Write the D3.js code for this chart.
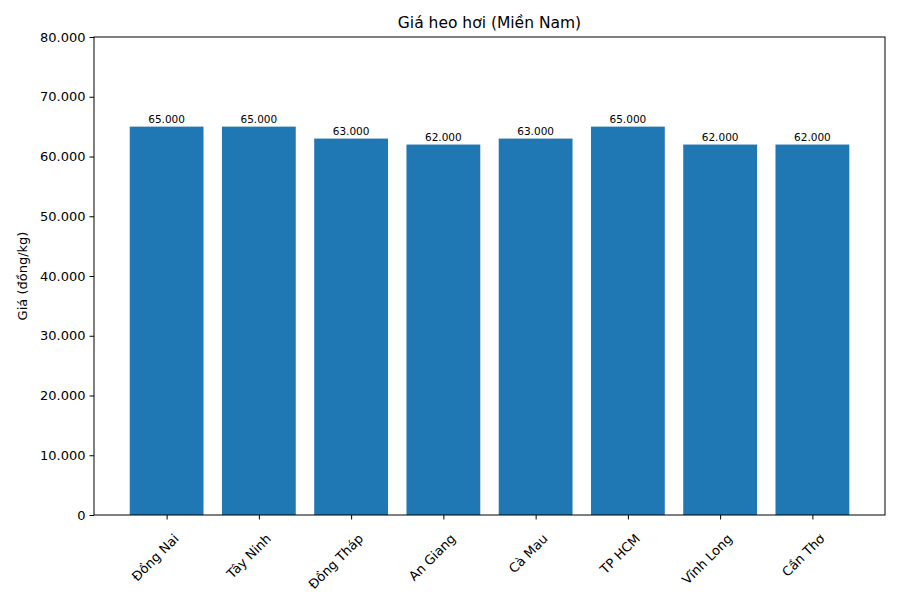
<!DOCTYPE html>
<html>
<head>
<meta charset="utf-8">
<script src="https://cdn.jsdelivr.net/npm/d3@7"></script>
<style>
body { margin:0; background:#fff; }
text { font-family: "DejaVu Sans", sans-serif; }
</style>
</head>
<body>
<svg id="chart" width="900" height="600"></svg>
<script>
const provinces = ["Đồng Nai", "Tây Ninh", "Đồng Tháp", "An Giang", "Cà Mau", "TP HCM", "Vĩnh Long", "Cần Thơ"];
const prices = [65000, 65000, 63000, 62000, 63000, 65000, 62000, 62000];
const yTicks = [0, 10000, 20000, 30000, 40000, 50000, 60000, 70000, 80000];

const margin = {top:37, right:15, bottom:85, left:94};
const width = 900 - margin.left - margin.right;
const height = 600 - margin.top - margin.bottom;

const fmt = v => v === 0 ? "0" : d3.format(",")(v).replace(/,/g, ".");

let svg = d3.select("#chart");
let g = svg.append("g").attr("transform", `translate(${margin.left},${margin.top})`);

let x = d3.scaleLinear().domain([-0.787, provinces.length - 1 + 0.787]).range([0, width]);
let y = d3.scaleLinear().domain([0, 80000]).range([height, 0]);
let barW = (x(1) - x(0)) * 0.8;

g.selectAll("rect.bar")
    .data(prices)
    .enter().append("rect")
    .attr("class", "bar")
    .attr("x", (d, i) => x(i) - barW / 2)
    .attr("y", d => y(d))
    .attr("width", barW)
    .attr("height", d => height - y(d))
    .attr("fill", "#1f77b4");

g.selectAll("text.val")
    .data(prices)
    .enter().append("text")
    .attr("x", (d, i) => x(i))
    .attr("y", d => y(d) - 4)
    .attr("text-anchor", "middle")
    .attr("font-size", "10.5px")
    .text(d => fmt(d));

let yAxis = g.append("g")
    .call(d3.axisLeft(y).tickValues(yTicks).tickFormat(fmt).tickSizeOuter(0).tickSize(4.5).tickPadding(4));
yAxis.selectAll("text").attr("font-size", "13px").attr("fill", "#000");

let xAxis = g.append("g")
    .attr("transform", `translate(0,${height})`)
    .call(d3.axisBottom(x).tickValues(d3.range(provinces.length)).tickFormat(i => provinces[i]).tickSizeOuter(0).tickSize(4.5));
xAxis.selectAll("text")
    .attr("font-size", "13px").attr("fill", "#000")
    .attr("text-anchor", "end")
    .attr("dy", "0.35em")
    .attr("transform", "translate(4,16) rotate(-45)");

// frame
g.append("rect").attr("width", width).attr("height", height)
    .attr("fill", "none").attr("stroke", "#000").attr("stroke-width", 1);
svg.selectAll(".domain").remove();

svg.append("text")
    .attr("x", margin.left + width / 2).attr("y", 28)
    .attr("text-anchor", "middle").attr("font-size", "15.5px")
    .text("Giá heo hơi (Miền Nam)");

svg.append("text")
    .attr("transform", `translate(27,${margin.top + height / 2}) rotate(-90)`)
    .attr("text-anchor", "middle").attr("font-size", "13px")
    .text("Giá (đồng/kg)");
</script>
</body>
</html>
